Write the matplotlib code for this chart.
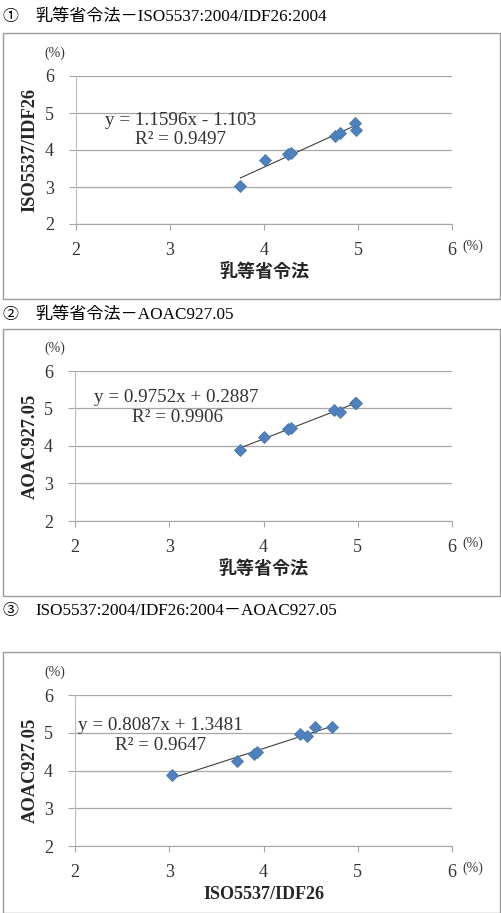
import numpy as np
import matplotlib
matplotlib.use("Agg")
import matplotlib.pyplot as plt
from matplotlib.patches import Rectangle

# データ
houka = [3.75, 4.01, 4.26, 4.29, 4.75, 4.81, 4.97, 4.98]    # 乳等省令法
iso = [3.03, 3.72, 3.90, 3.93, 4.39, 4.46, 4.73, 4.55]      # ISO5537/IDF26
aoac = [3.88, 4.25, 4.44, 4.48, 4.97, 4.91, 5.15, 5.14]     # AOAC927.05

# 近似直線の係数 (傾き, 切片)
coef1 = (1.1596, -1.103)
coef2 = (0.9752, 0.2887)
coef3 = (0.8087, 1.3481)

titles = ["乳等省令法－ISO5537:2004/IDF26:2004",
          "乳等省令法－AOAC927.05",
          "ISO5537:2004/IDF26:2004－AOAC927.05"]
marks = ["①", "②", "③"]
eq_texts = [("y = 1.1596x - 1.103", "R² = 0.9497"),
            ("y = 0.9752x + 0.2887", "R² = 0.9906"),
            ("y = 0.8087x + 1.3481", "R² = 0.9647")]
xlabels = ["乳等省令法", "乳等省令法", "ISO5537/IDF26"]
ylabels = ["ISO5537/IDF26", "AOAC927.05", "AOAC927.05"]
ticks = [2, 3, 4, 5, 6]

W, H = 502, 913
fam = ["Liberation Serif", "Noto Sans CJK JP"]
fam_j = ["Noto Sans CJK JP", "Liberation Serif"]

fig = plt.figure(figsize=(W / 100, H / 100), dpi=100)

def fx(px):
    return px / W

def fy(py):
    return 1 - py / H

# パネルの位置 (ピクセル)
panels = [
    dict(box=(3, 33, 500, 299), ax=(76, 76, 452, 224), title_y=17,
         eq=((105, 120), (135, 140)), data=(houka, iso), coef=coef1),
    dict(box=(3, 329, 500, 596), ax=(75, 371, 452, 521), title_y=315,
         eq=((94, 397), (132, 417)), data=(houka, aoac), coef=coef2),
    dict(box=(3, 652, 500, 913), ax=(75, 695, 452, 846), title_y=611,
         eq=((78, 725), (115, 745)), data=(iso, aoac), coef=coef3),
]

for i, p in enumerate(panels):
    # 外枠
    x0, y0, x1, y1 = p["box"]
    fig.patches.append(Rectangle((fx(x0), fy(y1)), fx(x1 - x0), (y1 - y0) / H,
                                 transform=fig.transFigure, fill=False,
                                 edgecolor="#9a9a9a", lw=1.0))
    # タイトル
    fig.text(fx(3), fy(p["title_y"]), marks[i], fontsize=11.5, va="center",
             family=fam_j)
    fig.text(fx(35), fy(p["title_y"]), titles[i], fontsize=12.3, va="center",
             family=fam)

    ax_l, ax_t, ax_r, ax_b = p["ax"]
    ax = fig.add_axes([fx(ax_l), fy(ax_b), fx(ax_r - ax_l), (ax_b - ax_t) / H])
    xs, ys = p["data"]
    ax.set_xlim(2, 6)
    ax.set_ylim(2, 6)
    ax.set_xticks(ticks)
    ax.set_yticks(ticks)
    ax.yaxis.grid(True, color="#a6a6a6", lw=0.9)
    ax.set_axisbelow(True)
    for s in ["top", "right"]:
        ax.spines[s].set_visible(False)
    ax.spines["left"].set_color("#bdbdbd")
    ax.spines["bottom"].set_color("#a6a6a6")
    ax.tick_params(axis="y", length=5, color="#a6a6a6", pad=11, labelsize=13)
    ax.tick_params(axis="x", length=4, color="#a6a6a6", pad=9, labelsize=13)
    for lab in ax.get_xticklabels() + ax.get_yticklabels():
        lab.set_family(fam)
        lab.set_color("#333333")

    # 近似直線
    a, b = p["coef"]
    lx = np.array([min(xs), max(xs)])
    ax.plot(lx, a * lx + b, color="#404040", lw=0.8, zorder=2)
    ax.plot(xs, ys, "D", ms=6.5, mfc="#4f81bd", mec="#4a78b0", mew=0.6,
            zorder=3, clip_on=False)

    # 式
    (ex, ey), (rx, ry) = p["eq"]
    fig.text(fx(ex), fy(ey), eq_texts[i][0], fontsize=13.8, va="center",
             family=fam, color="#333333")
    fig.text(fx(rx), fy(ry), eq_texts[i][1], fontsize=13.8, va="center",
             family=fam, color="#333333")

    # 軸ラベル
    fig.text(fx((ax_l + ax_r) / 2), fy(ax_b + 48), xlabels[i], fontsize=13,
             ha="center", va="center", family=fam, weight="bold",
             color="#262626")
    fig.text(fx(30), fy((ax_t + ax_b) / 2), ylabels[i], fontsize=13.3,
             ha="center", va="center", rotation=90, family=fam,
             weight="bold", color="#262626")
    # (%)
    fig.text(fx(55), fy(ax_t - 23), "(%)", fontsize=10, ha="center",
             va="center", family=fam, color="#333333")
    fig.text(fx(473), fy(ax_b + 22), "(%)", fontsize=10, ha="center",
             va="center", family=fam, color="#333333")

fig.savefig("out.png", dpi=100)
